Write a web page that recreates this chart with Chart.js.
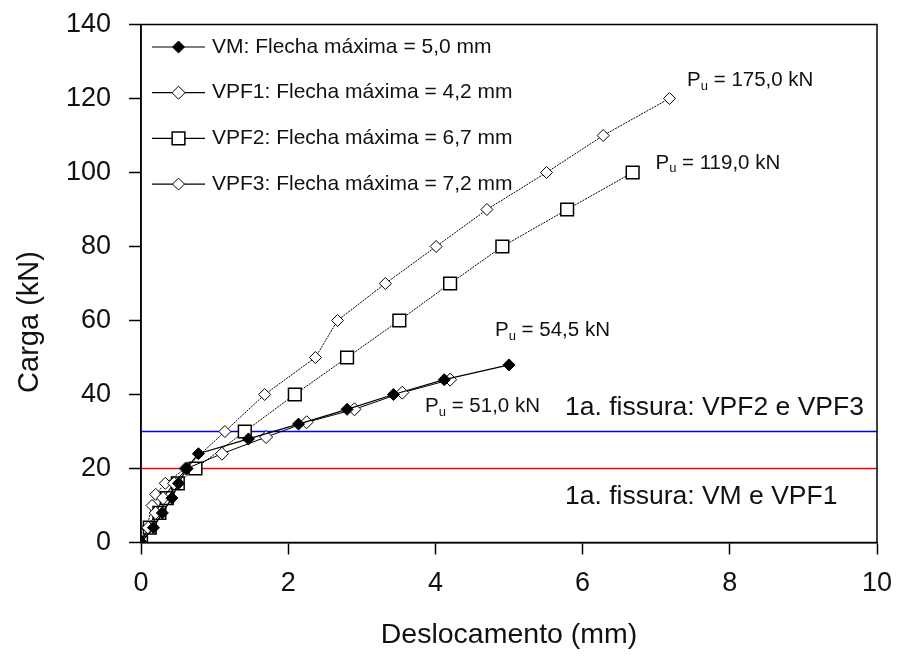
<!DOCTYPE html>
<html>
<head>
<meta charset="utf-8">
<script src="https://cdn.jsdelivr.net/npm/chart.js@4.4.0/dist/chart.umd.min.js"></script>
<style>
html, body { margin: 0; padding: 0; background: #fff; }
#wrap { width: 897px; height: 656px; }
</style>
</head>
<body>
<div id="wrap"><canvas id="chart" width="897" height="656"></canvas></div>
<script>
"use strict";

// deslocamento (mm) / carga (kN)
const vmX   = [0, 0.17, 0.29, 0.42, 0.51, 0.62, 0.78, 1.46, 2.14, 2.8, 3.43, 4.12, 5.0];
const vmY   = [0, 4, 8, 12, 16, 20, 24, 28, 32, 36, 40, 44, 48];
const vpf1X = [0, 0.1, 0.2, 0.3, 0.45, 0.62, 1.1, 1.7, 2.25, 2.9, 3.55, 4.2];
const vpf1Y = [0, 4, 8, 12, 16, 20, 24, 28.5, 32.5, 36, 40.5, 44];
const vpf2X = [0, 0.12, 0.25, 0.35, 0.5, 0.74, 1.41, 2.09, 2.8, 3.51, 4.2, 4.91, 5.79, 6.68];
const vpf2Y = [0, 4, 8, 12, 16, 20, 30, 40, 50, 60, 70, 80, 90, 100];
const vpf3X = [0, 0.08, 0.15, 0.2, 0.33, 0.6, 1.14, 1.68, 2.37, 2.67, 3.32, 4.01, 4.7, 5.51, 6.28, 7.18];
const vpf3Y = [0, 4, 10, 13, 16, 20, 30, 40, 50, 60, 70, 80, 90, 100, 110, 120];

const seriesNames = [
    'VM: Flecha máxima = 5,0 mm',
    'VPF1: Flecha máxima = 4,2 mm',
    'VPF2: Flecha máxima = 6,7 mm',
    'VPF3: Flecha máxima = 7,2 mm'
];

// primeira fissura (kN)
const fissuraVM = 20;
const fissuraVPF = 30;

const xTicks = [0, 2, 4, 6, 8, 10];
const yTicks = [0, 20, 40, 60, 80, 100, 120, 140];

const pts = (xs, ys) => xs.map((x, i) => ({x: x, y: ys[i]}));

const FONT = 'Arial, "Liberation Sans", sans-serif';

const datasets = [
    {
        label: seriesNames[0], data: pts(vmX, vmY),
        borderColor: '#000', borderWidth: 1.3,
        pointStyle: 'rectRot', pointRadius: 6,
        pointBackgroundColor: '#000', pointBorderColor: '#000', pointBorderWidth: 1
    },
    {
        label: seriesNames[1], data: pts(vpf1X, vpf1Y),
        borderColor: '#000', borderWidth: 1,
        pointStyle: 'rectRot', pointRadius: 6.5,
        pointBackgroundColor: '#fff', pointBorderColor: '#000', pointBorderWidth: 1
    },
    {
        label: seriesNames[2], data: pts(vpf2X, vpf2Y),
        borderColor: '#000', borderWidth: 1, borderDash: [2, 1],
        pointStyle: 'rect', pointRadius: 9,
        pointBackgroundColor: '#fff', pointBorderColor: '#000', pointBorderWidth: 1.5
    },
    {
        label: seriesNames[3], data: pts(vpf3X, vpf3Y),
        borderColor: '#000', borderWidth: 1, borderDash: [2, 1],
        pointStyle: 'rectRot', pointRadius: 6,
        pointBackgroundColor: '#fff', pointBorderColor: '#000', pointBorderWidth: 1
    },
    {
        label: 'fissuraVPF', data: [{x: 0, y: fissuraVPF}, {x: 10, y: fissuraVPF}],
        borderColor: '#0000ff', borderWidth: 1.5, pointRadius: 0
    },
    {
        label: 'fissuraVM', data: [{x: 0, y: fissuraVM}, {x: 10, y: fissuraVM}],
        borderColor: '#ff0000', borderWidth: 1.5, pointRadius: 0
    }
];

// textos dentro do gráfico (posição em unidades dos eixos)
const notes = [
    {x: 7.42, y: 125, text: '175,0 kN', pu: true},
    {x: 6.99, y: 102.6, text: '119,0 kN', pu: true},
    {x: 4.81, y: 57.4, text: '54,5 kN', pu: true},
    {x: 3.86, y: 36.9, text: '51,0 kN', pu: true},
    {x: 5.76, y: 36.4, text: '1a. fissura: VPF2 e VPF3'},
    {x: 5.76, y: 12.3, text: '1a. fissura: VM e VPF1'}
];

const extras = {
    id: 'extras',
    afterDraw(chart) {
        const c = chart.ctx;
        const a = chart.chartArea;
        const xs = chart.scales.x, ys = chart.scales.y;
        c.save();
        // moldura
        c.strokeStyle = '#000';
        c.lineWidth = 1.5;
        c.strokeRect(a.left, a.top, a.right - a.left, a.bottom - a.top);

        // título do eixo y
        c.save();
        c.translate(30, 322);
        c.rotate(-Math.PI / 2);
        c.textAlign = 'center';
        c.textBaseline = 'middle';
        c.fillStyle = '#111';
        c.font = '29px ' + FONT;
        c.fillText('Carga (kN)', 0, 0);
        c.restore();

        // legenda
        c.textBaseline = 'middle';
        c.textAlign = 'left';
        for (let i = 0; i < 4; i++) {
            const ds = chart.data.datasets[i];
            const ly = 47 + i * 45.7;
            c.strokeStyle = '#000';
            c.lineWidth = 1.2;
            c.setLineDash([]);
            c.beginPath();
            c.moveTo(152, ly);
            c.lineTo(205, ly);
            c.stroke();
            c.fillStyle = ds.pointBackgroundColor;
            c.strokeStyle = ds.pointBorderColor;
            c.lineWidth = ds.pointBorderWidth;
            Chart.helpers.drawPoint(c, {
                pointStyle: ds.pointStyle,
                radius: ds.pointRadius,
                borderWidth: ds.pointBorderWidth
            }, 178.5, ly);
            c.fillStyle = '#111';
            c.font = '21px ' + FONT;
            c.fillText(ds.label, 212, ly);
        }

        // anotações
        notes.forEach(n => {
            const px = xs.getPixelForValue(n.x);
            const py = ys.getPixelForValue(n.y);
            c.fillStyle = '#111';
            if (n.pu) {
                c.font = '20.5px ' + FONT;
                c.fillText('P', px, py);
                let w = c.measureText('P').width;
                c.font = '13px ' + FONT;
                c.fillText('u', px + w, py + 6);
                w += c.measureText('u').width;
                c.font = '20.5px ' + FONT;
                c.fillText(' = ' + n.text, px + w, py);
            } else {
                c.font = '26.5px ' + FONT;
                c.fillText(n.text, px, py);
            }
        });
        c.restore();
    }
};

new Chart(document.getElementById('chart').getContext('2d'), {
    type: 'line',
    data: {datasets: datasets},
    options: {
        responsive: false,
        animation: false,
        events: [],
        layout: {
            padding: {left: 0, right: 20, top: 24.5, bottom: 0}
        },
        plugins: {
            legend: {display: false},
            tooltip: {enabled: false}
        },
        scales: {
            x: {
                type: 'linear',
                min: 0, max: 10,
                afterBuildTicks: (s) => { s.ticks = xTicks.map(v => ({value: v})); },
                afterFit: (s) => {
                    s.height = 113.5;
                    s.paddingLeft = 0;
                    s.paddingRight = 0;
                },
                grid: {
                    drawOnChartArea: false,
                    drawTicks: true,
                    tickLength: 12,
                    tickWidth: 1.5,
                    tickColor: '#000'
                },
                border: {color: '#000', width: 1.5},
                ticks: {
                    color: '#111',
                    padding: 13,
                    font: {family: FONT, size: 27},
                    maxRotation: 0
                },
                title: {
                    display: true,
                    text: 'Deslocamento (mm)',
                    color: '#111',
                    font: {family: FONT, size: 28.5, lineHeight: 1.2},
                    padding: {top: 0, bottom: 4}
                }
            },
            y: {
                type: 'linear',
                min: 0, max: 140,
                afterBuildTicks: (s) => { s.ticks = yTicks.map(v => ({value: v})); },
                afterFit: (s) => {
                    s.width = 141;
                    s.paddingTop = 0;
                    s.paddingBottom = 0;
                },
                grid: {
                    drawOnChartArea: false,
                    drawTicks: true,
                    tickLength: 12,
                    tickWidth: 1.5,
                    tickColor: '#000'
                },
                border: {color: '#000', width: 1.5},
                ticks: {
                    color: '#111',
                    padding: 18,
                    font: {family: FONT, size: 27}
                }
            }
        }
    },
    plugins: [extras]
});
</script>
</body>
</html>
